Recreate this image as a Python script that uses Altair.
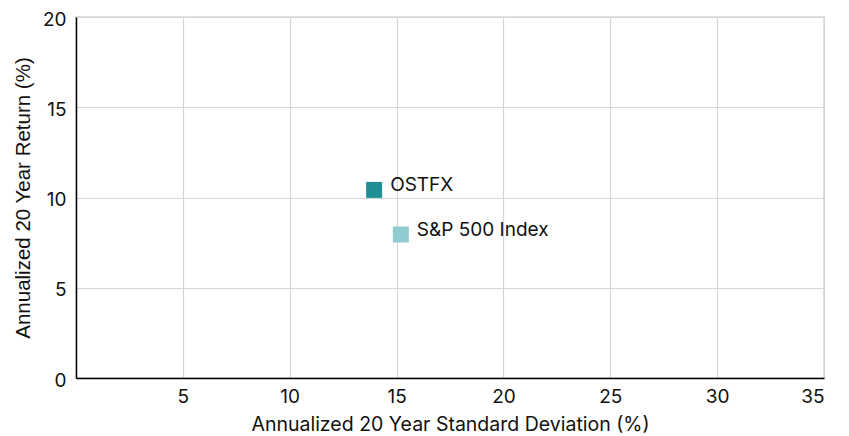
import altair as alt
import pandas as pd

names = ["OSTFX", "S&P 500 Index"]
std_dev = [13.95, 15.2]
returns = [10.42, 7.95]
colors = ["#1f8f95", "#90cbcf"]

df = pd.DataFrame({"name": names, "sd": std_dev, "ret": returns, "color": colors})

FONT = "Inter"

base = alt.Chart(df).encode(
    x=alt.X("sd:Q", scale=alt.Scale(domain=[0, 35], nice=False),
            axis=alt.Axis(title="Annualized 20 Year Standard Deviation (%)",
                          values=[5, 10, 15, 20, 25, 30, 35])),
    y=alt.Y("ret:Q", scale=alt.Scale(domain=[0, 20], nice=False),
            axis=alt.Axis(title="Annualized 20 Year Return (%)",
                          values=[0, 5, 10, 15, 20])),
)

points = base.mark_square(size=256, opacity=1).encode(
    color=alt.Color("color:N", scale=None)
)

labels = base.mark_text(align="left", baseline="middle", dx=16, dy=-5, fontSize=19,
                        font=FONT, color="#111111").encode(text="name:N")

chart = (points + labels).properties(
    width=748, height=361,
    autosize=alt.AutoSizeParams(type="none"),
    padding={"left": 68, "top": 9, "right": 17, "bottom": 56},
).configure_view(
    stroke="#d6d6d6", strokeWidth=1.5
).configure_axis(
    grid=True, gridColor="#d6d6d6", gridWidth=1.2,
    domainColor="#000000", domainWidth=1.5,
    ticks=False, labelFontSize=19, labelFont=FONT, labelColor="#111111",
    titleFont=FONT, titleFontSize=19.5, titleFontWeight="normal", titleColor="#111111",
).configure_axisX(
    labelPadding=9, titlePadding=9
).configure_axisY(
    labelPadding=10, titlePadding=9, titleFont="Liberation Sans", titleFontSize=20.5,
    labelOffset=2
)

chart.save("out.html", embed_options={"renderer": "svg", "actions": False})
